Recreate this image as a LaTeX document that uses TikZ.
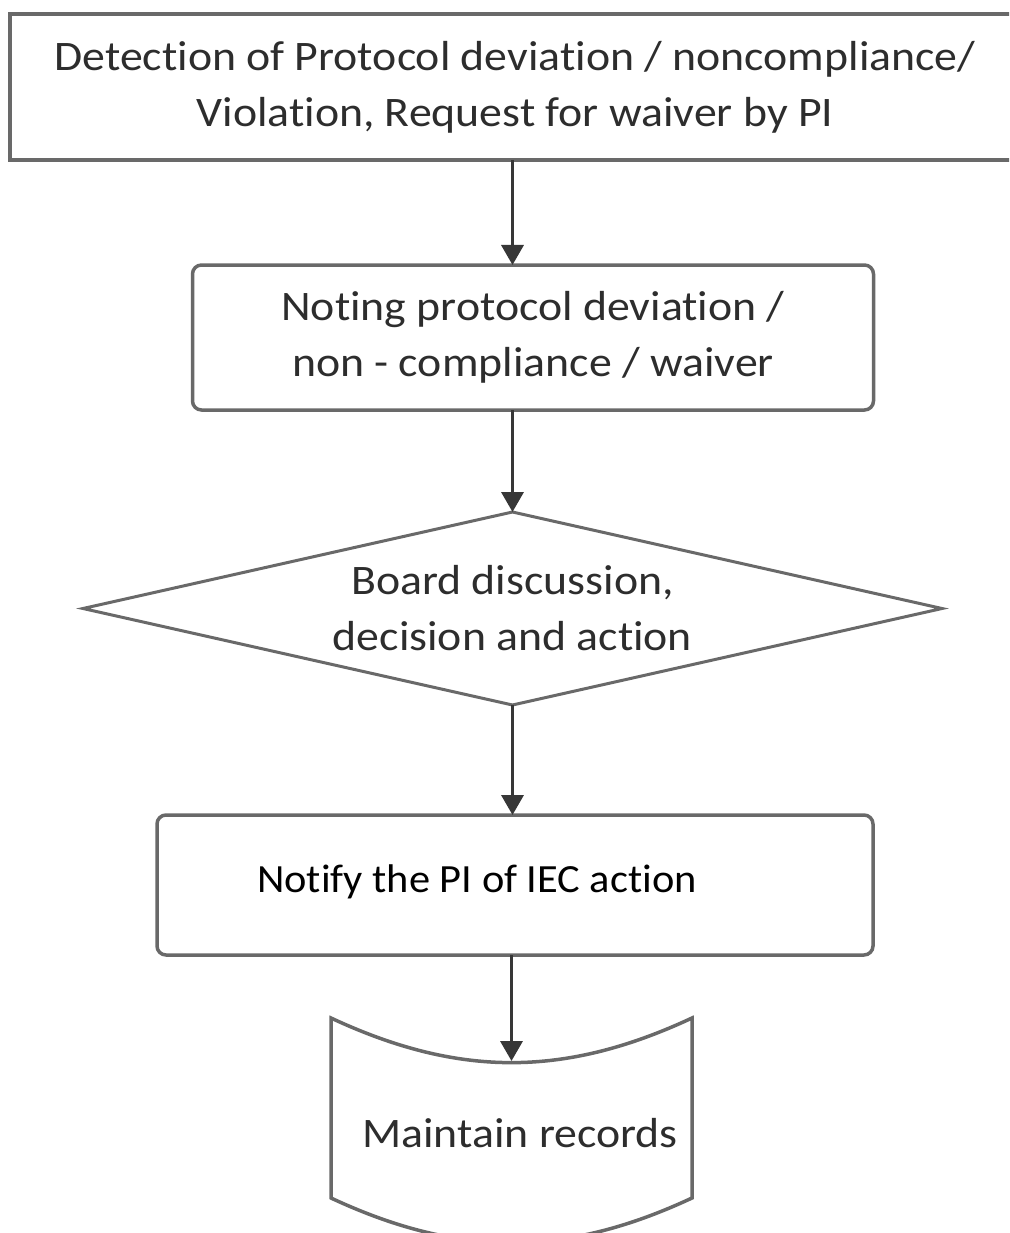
\documentclass[tikz,border=0pt]{standalone}
\usepackage{fontspec}
\setmainfont{Carlito}
\newfontfamily\boxfont[FakeStretch=1.09, Ligatures=NoCommon]{Carlito}
\newfontfamily\notefont[FakeStretch=1.06, Ligatures=NoCommon]{Carlito}
\usetikzlibrary{arrows.meta,positioning,calc,shapes.geometric}
\definecolor{boxline}{RGB}{105,105,105}
\definecolor{arrline}{RGB}{55,55,55}
\definecolor{txtgray}{RGB}{45,45,45}

\begin{document}
\begin{tikzpicture}[x=1pt, y=1pt,
  stepbox/.style={draw=boxline, line width=3.5pt, inner sep=0pt, outer sep=0pt, align=center, text=txtgray, font=\boxfont\fontsize{42}{56}\selectfont},
  roundbox/.style={stepbox, rounded corners=9pt},
  decbox/.style={stepbox, diamond, line width=3pt, aspect=4.45},
  arr/.style={-{Triangle[length=20pt, width=22pt]}, draw=arrline, line width=3.5pt}]
  \useasboundingbox (0,0) rectangle (1009,-1233);
  \clip (0,0) rectangle (1009,-1233);
  \node[stepbox, minimum width=1010pt, minimum height=146pt] (det) at (515,-87) {Detection of Protocol deviation / noncompliance/\\Violation, Request for waiver by PI};
  \node[roundbox, minimum width=681pt, minimum height=145pt, below=105pt of det, xshift=18pt] (note) {Noting protocol deviation /\\non - compliance / waiver};
  \node[decbox, minimum width=859pt, minimum height=193pt, below=102pt of note, xshift=-20.5pt] (dec) {Board discussion,\\decision and action};
  \node[roundbox, minimum width=716pt, minimum height=140pt, below=110pt of dec, xshift=2.5pt] (notify) {};
  \node[font=\notefont\fontsize{40}{48}\selectfont, text=black, inner sep=0pt] (notify text) at ([xshift=-38pt, yshift=3pt]notify.center) {Notify the PI of IEC action};
  % records shape
  \node[minimum width=361pt, minimum height=180pt, inner sep=0pt, outer sep=0pt, below=63pt of notify, xshift=-3.5pt] (rec) {};
  \draw[boxline, line width=3.5pt] (rec.north west) to[out=-25, in=-155] (rec.north east) -- (rec.south east) to[out=-155, in=-25] (rec.south west) -- cycle;
  \node[stepbox, draw=none] (rec text) at ([xshift=8.5pt, yshift=-25pt]rec.center) {Maintain records};
  \coordinate (rec in) at ($(rec.north)+(0,-43pt)$);
  \draw[arr] (det.south -| dec.north) -- (note.north -| dec.north);
  \draw[arr] (note.south -| dec.north) -- (dec.north);
  \draw[arr] (dec.south) -- (notify.north -| dec.south);
  \draw[arr] (notify.south -| rec in) -- (rec in);
\end{tikzpicture}
\end{document}
